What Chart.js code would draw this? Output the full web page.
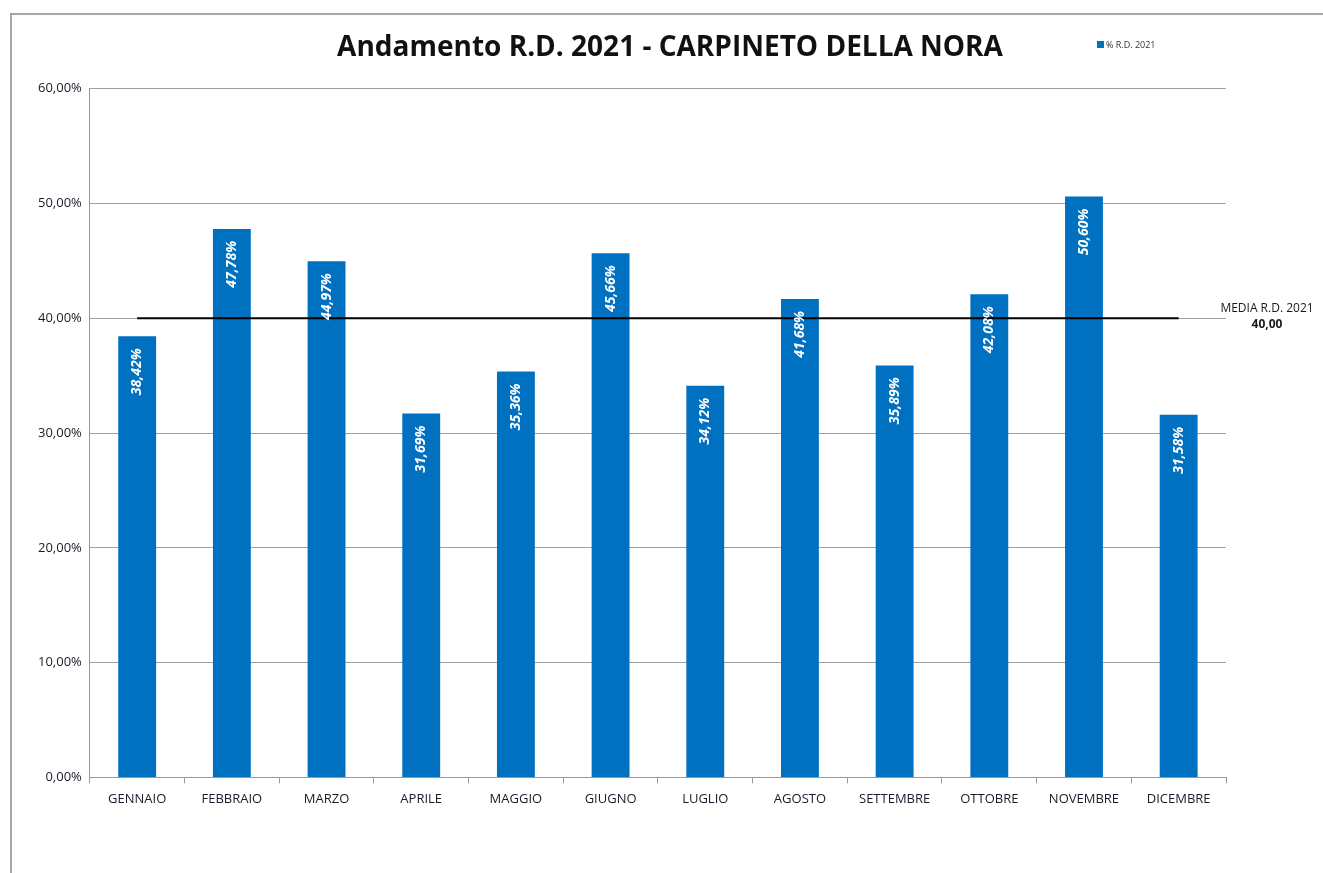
<!DOCTYPE html>
<html>
<head>
<meta charset="utf-8">
<script src="https://cdn.jsdelivr.net/npm/chart.js@4.4.0/dist/chart.umd.min.js"></script>
<style>
	html, body { margin: 0; padding: 0; background: #fff; }
	#wrap { width: 1323px; height: 873px; }
</style>
</head>
<body>
<div id="wrap"><canvas id="mychart" width="1323" height="873"></canvas></div>
<script>
var mesi = ['GENNAIO', 'FEBBRAIO', 'MARZO', 'APRILE', 'MAGGIO', 'GIUGNO', 'LUGLIO', 'AGOSTO', 'SETTEMBRE', 'OTTOBRE', 'NOVEMBRE', 'DICEMBRE'];
var percentuali = [38.42, 47.78, 44.97, 31.69, 35.36, 45.66, 34.12, 41.68, 35.89, 42.08, 50.60, 31.58];
var media = 40.00;
var mediaSerie = [40, 40, 40, 40, 40, 40, 40, 40, 40, 40, 40, 40];
var titolo = 'Andamento R.D. 2021 - CARPINETO DELLA NORA';
var legenda = '% R.D. 2021';

function virgola(v, d) {
	return v.toFixed(d).replace('.', ',');
}

var extra = {
	id: 'extra',
	afterDatasetsDraw: function (chart) {
		var ctx = chart.ctx;
		var meta = chart.getDatasetMeta(0);
		ctx.save();
		ctx.fillStyle = '#ffffff';
		ctx.font = 'italic bold 14px "Open Sans", sans-serif';
		ctx.textAlign = 'right';
		ctx.textBaseline = 'middle';
		meta.data.forEach(function (bar, i) {
			ctx.save();
			ctx.translate(bar.x, bar.y + 12);
			ctx.rotate(-Math.PI / 2);
			ctx.fillText(virgola(percentuali[i], 2) + '%', 0, 0);
			ctx.restore();
		});
		ctx.restore();
	},
	afterDraw: function (chart) {
		var ctx = chart.ctx;
		var y = chart.scales.y.getPixelForValue(media);
		ctx.save();
		// bordo esterno
		ctx.strokeStyle = '#a6a6a6';
		ctx.lineWidth = 2;
		ctx.beginPath();
		ctx.moveTo(11, 873);
		ctx.lineTo(11, 14);
		ctx.lineTo(1323, 14);
		ctx.stroke();
		// titolo
		ctx.fillStyle = '#111';
		ctx.textAlign = 'center';
		ctx.textBaseline = 'middle';
		ctx.font = 'bold 28px "Open Sans", sans-serif';
		ctx.fillText(titolo, 670, 48);
		// etichetta media
		ctx.fillStyle = '#1a1a1a';
		ctx.font = '12px "Open Sans", sans-serif';
		ctx.fillText('MEDIA R.D. 2021', 1267, y - 10);
		ctx.font = 'bold 12px "Open Sans", sans-serif';
		ctx.fillText(virgola(media, 2), 1267, y + 6);
		// legenda
		ctx.fillStyle = '#0070C0';
		ctx.fillRect(1097, 41, 7, 7);
		ctx.fillStyle = '#333';
		ctx.textAlign = 'left';
		ctx.font = '9px "Open Sans", sans-serif';
		ctx.fillText(legenda, 1106, 45);
		ctx.restore();
	}
};

var ctx = document.getElementById('mychart').getContext('2d');
var myChart = new Chart(ctx, {
	type: 'bar',
	data: {
		labels: mesi,
		datasets: [{
			label: legenda,
			data: percentuali,
			backgroundColor: '#0070C0',
			barPercentage: 0.4,
			categoryPercentage: 1.0,
			order: 2
		}, {
			type: 'line',
			label: 'MEDIA R.D. 2021',
			data: mediaSerie,
			borderColor: '#000000',
			borderWidth: 2,
			pointRadius: 0,
			fill: false,
			order: 1
		}]
	},
	options: {
		responsive: false,
		animation: false,
		layout: { padding: { left: 30, right: 97, top: 0, bottom: 58 } },
		plugins: {
			legend: { display: false },
			tooltip: { enabled: false },
			title: {
				// solo per lo spazio, il testo viene disegnato dal plugin
				display: true,
				text: titolo,
				color: 'rgba(0,0,0,0)',
				font: { family: '"Open Sans", sans-serif', size: 28, weight: 'bold' },
				padding: { top: 31, bottom: 24 }
			}
		},
		scales: {
			x: {
				grid: { display: true, drawOnChartArea: false, color: '#999', tickLength: 6 },
				border: { color: '#999', width: 1 },
				ticks: {
					color: '#1a1a2a',
					font: { family: '"Open Sans", sans-serif', size: 13 },
					padding: 8,
					maxRotation: 0
				}
			},
			y: {
				min: 0,
				max: 60,
				ticks: {
					stepSize: 10,
					color: '#1a1a2a',
					font: { family: '"Open Sans", sans-serif', size: 13 },
					padding: 8,
					callback: function (v) { return virgola(v, 2) + '%'; }
				},
				grid: { color: '#a0a0a0', lineWidth: 1, drawTicks: false },
				border: { color: '#999', width: 1 }
			}
		}
	},
	plugins: [extra]
});
</script>
</body>
</html>
